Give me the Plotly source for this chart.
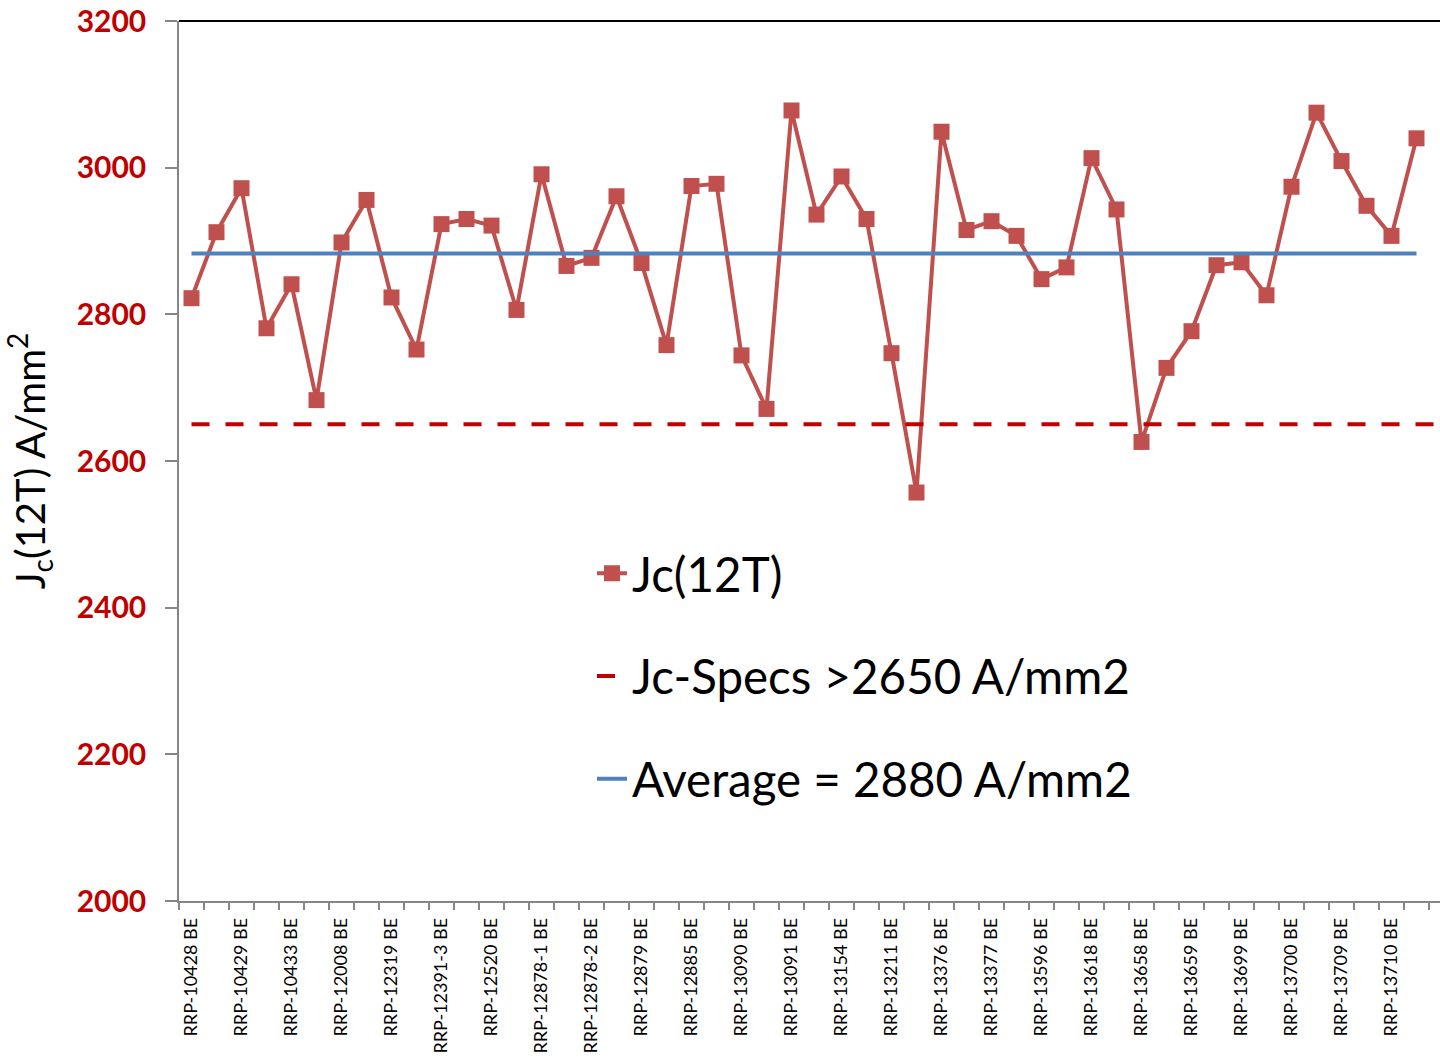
import plotly.graph_objects as go

# ---- data ----
tick_labels = [
    "RRP-10428 BE", "RRP-10429 BE", "RRP-10433 BE", "RRP-12008 BE", "RRP-12319 BE",
    "RRP-12391-3 BE", "RRP-12520 BE", "RRP-12878-1 BE", "RRP-12878-2 BE", "RRP-12879 BE",
    "RRP-12885 BE", "RRP-13090 BE", "RRP-13091 BE", "RRP-13154 BE", "RRP-13211 BE",
    "RRP-13376 BE", "RRP-13377 BE", "RRP-13596 BE", "RRP-13618 BE", "RRP-13658 BE",
    "RRP-13659 BE", "RRP-13699 BE", "RRP-13700 BE", "RRP-13709 BE", "RRP-13710 BE",
]

jc_values = [
    2822, 2912, 2972, 2781, 2841, 2683, 2898, 2956, 2823, 2752,
    2923, 2930, 2921, 2806, 2991, 2866, 2877, 2961, 2870, 2758,
    2975, 2978, 2744, 2671, 3078, 2936, 2988, 2930, 2747, 2557,
    3049, 2915, 2927, 2907, 2848, 2864, 3013, 2943, 2626, 2727,
    2777, 2867, 2871, 2826, 2974, 3075, 3009, 2948, 2907, 3040,
]

spec_value = 2650
average_value = 2883

series_names = ["Jc(12T)", "Jc-Specs >2650 A/mm2", "Average = 2880 A/mm2"]

# ---- derived ----
n = len(jc_values)
x_idx = list(range(n))
label_pos = x_idx[::2]
spec_x = x_idx + [n]

FONT = "Lato"

fig = go.Figure()

fig.add_trace(go.Scatter(
    x=x_idx, y=jc_values, name=series_names[0], mode="lines+markers",
    line=dict(color="#C0504D", width=4),
    marker=dict(symbol="square", size=16, color="#C0504D"),
    legendgroup="a",
))
fig.add_trace(go.Scatter(
    x=spec_x, y=[spec_value] * len(spec_x), name=series_names[1], mode="lines",
    line=dict(color="#C00000", width=4, dash="18px,16px"),
    legendgroup="b",
))
fig.add_trace(go.Scatter(
    x=x_idx, y=[average_value] * n, name=series_names[2], mode="lines",
    line=dict(color="#4F81BD", width=4),
    legendgroup="c",
))

fig.update_layout(
    width=1440, height=1058,
    margin=dict(l=179, r=0, t=21, b=157, autoexpand=False),
    plot_bgcolor="white", paper_bgcolor="white",
    font=dict(family=FONT, color="black"),
    showlegend=True,
    legend=dict(
        x=0.3275, y=0.415, xanchor="left", yanchor="top",
        bgcolor="rgba(0,0,0,0)", font=dict(family=FONT, size=47.5, color="black"),
        tracegroupgap=38, itemwidth=30,
    ),
    xaxis=dict(
        range=[-0.5, 49.94], showgrid=False, zeroline=False,
        showline=True, linecolor="#868686", linewidth=1.5,
        tickmode="array", tickvals=label_pos, ticktext=tick_labels,
        ticks="", tickangle=-90, ticklabelstandoff=8,
        tickfont=dict(family=FONT, size=18, color="black"),
        minor=dict(tickmode="linear", tick0=-0.5, dtick=1, ticks="outside",
                   ticklen=7, tickcolor="#868686", tickwidth=1.5, showgrid=False),
    ),
    yaxis=dict(
        range=[2000, 3200], dtick=200, showgrid=False, zeroline=False,
        showline=True, linecolor="#868686", linewidth=1.5,
        ticks="outside", ticklen=12, tickcolor="#868686", tickwidth=1.5,
        ticklabelstandoff=13,
        tickfont=dict(family=FONT, size=30, color="#C00000", weight="bold"),
        title=dict(text="J<sub>c</sub>(12T) A/mm<sup>2</sup>",
                   font=dict(family=FONT, size=40, color="black"), standoff=25),
    ),
    shapes=[dict(type="line", xref="paper", yref="paper", x0=0, x1=1, y0=1, y1=1,
                 line=dict(color="black", width=2))],
)

fig.write_html("out.html")
